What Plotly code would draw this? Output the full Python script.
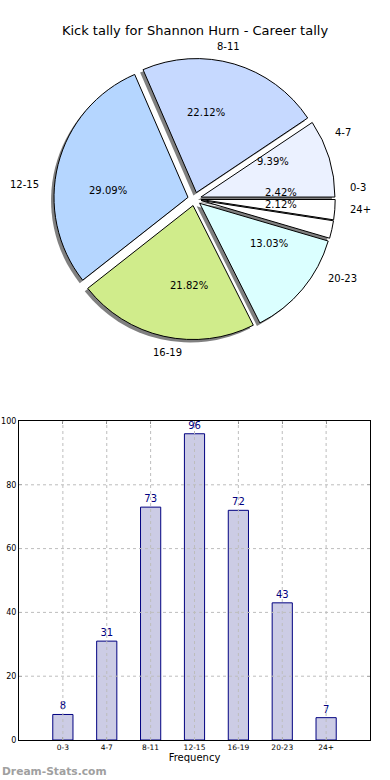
import math
import plotly.graph_objects as go

categories = ["0-3", "4-7", "8-11", "12-15", "16-19", "20-23", "24+"]
counts = [8, 31, 73, 96, 72, 43, 7]
pie_colors = ["#ffffff", "#ebf1ff", "#c6d9ff", "#b5d6ff", "#d0ec8b", "#dbffff", "#ffffff"]
y_ticks = [0, 20, 40, 60, 80, 100]

FONT = "DejaVu Sans"
W, H = 390, 780

def px_x(v):
    return v / W

def px_y(v):
    return 1 - v / H

# pie geometry (pixels)
CX, CY, R = 194.5, 199.0, 134.0
PULL = 0.05
half = R * (1 + PULL)
pie_dom_x = [px_x(CX - half), px_x(CX + half)]
pie_dom_y = [px_y(CY + half), px_y(CY - half)]
pulls = [PULL] * len(counts)

fig = go.Figure()

# shadow pie (offset down-left)
sx, sy = 0.022 * R, 0.022 * R
fig.add_trace(go.Pie(
    labels=categories, values=counts, sort=False, direction="counterclockwise",
    rotation=90, pull=pulls,
    marker=dict(colors=["#808080"] * len(counts), line=dict(width=0)),
    textinfo="none", hoverinfo="skip", showlegend=False,
    domain=dict(x=[pie_dom_x[0] - sx / W, pie_dom_x[1] - sx / W],
                y=[pie_dom_y[0] - sy / H, pie_dom_y[1] - sy / H]),
))

# main pie
fig.add_trace(go.Pie(
    labels=categories, values=counts, sort=False, direction="counterclockwise",
    rotation=90, pull=pulls,
    marker=dict(colors=pie_colors, line=dict(color="#000000", width=1)),
    textinfo="none", showlegend=False, domain=dict(x=pie_dom_x, y=pie_dom_y),
))

# pie texts derived from the data (matplotlib-style: pct at 0.6r, labels at 1.1r)
annotations = []
total = sum(counts)
cum = 0
for lab, c in zip(categories, counts):
    mid = math.radians((cum + c / 2) / total * 360)
    cum += c
    ox = CX + PULL * R * math.cos(mid)
    oy = CY - PULL * R * math.sin(mid)
    annotations.append(dict(
        text=f"{c / total * 100:.2f}%",
        x=px_x(ox + 0.6 * R * math.cos(mid)), y=px_y(oy - 0.6 * R * math.sin(mid)),
        xref="paper", yref="paper", xanchor="center", yanchor="middle",
        showarrow=False, font=dict(family=FONT, size=10, color="#000000")))
    annotations.append(dict(
        text=lab,
        x=px_x(ox + 1.1 * R * math.cos(mid)), y=px_y(oy - 1.1 * R * math.sin(mid)),
        xref="paper", yref="paper",
        xanchor="left" if math.cos(mid) > 0 else "right", yanchor="middle",
        showarrow=False, font=dict(family=FONT, size=10, color="#000000")))

annotations.append(dict(text="<b>Dream-Stats.com</b>", x=0, y=px_y(771),
                        xref="paper", yref="paper", xanchor="left", yanchor="middle",
                        showarrow=False,
                        font=dict(family=FONT, size=10.7, color="#a0a0a0")))

# bar chart
fig.add_trace(go.Bar(
    x=categories, y=counts, width=0.46,
    marker=dict(color="#ccccE5", line=dict(color="#000080", width=1)),
    text=counts, textposition="outside", cliponaxis=False,
    textfont=dict(family=FONT, size=10, color="#000080"),
    xaxis="x", yaxis="y", showlegend=False, hoverinfo="skip",
))

# dotted grid drawn above the bars (as in the reference)
grid_line = dict(color="#bdbdbd", width=1, dash="dot")
shapes = []
for cat in categories:
    shapes.append(dict(type="line", xref="x", yref="y domain", x0=cat, x1=cat,
                       y0=0, y1=1, line=grid_line, layer="above"))
for yt in y_ticks[1:-1]:
    shapes.append(dict(type="line", xref="x domain", yref="y", x0=0, x1=1,
                       y0=yt, y1=yt, line=grid_line, layer="above"))

bar_dom_x = [px_x(19), px_x(370)]
bar_dom_y = [px_y(740), px_y(421)]

fig.update_layout(
    width=W, height=H,
    margin=dict(l=0, r=0, t=0, b=0, autoexpand=False),
    paper_bgcolor="white", plot_bgcolor="rgba(0,0,0,0)",
    font=dict(family=FONT, color="#000000"),
    hovermode=False,
    title=dict(text="Kick tally for Shannon Hurn - Career tally",
               x=0.5, xanchor="center", y=px_y(30), yanchor="middle",
               font=dict(family=FONT, size=13, color="#000000")),
    xaxis=dict(domain=bar_dom_x, anchor="y", automargin=False,
               type="category", range=[-1, 7], layer="above traces",
               showline=True, linecolor="#000000", linewidth=1, mirror="ticks",
               ticks="inside", ticklen=3, tickcolor="#888888",
               showgrid=False,
               tickfont=dict(family=FONT, size=7.5, color="#000000"),
               title=dict(text="Frequency", font=dict(family=FONT, size=10), standoff=1),
               zeroline=False, fixedrange=True),
    yaxis=dict(domain=bar_dom_y, anchor="x", automargin=False,
               range=[0, 100], tickvals=y_ticks, layer="above traces",
               showline=True, linecolor="#000000", linewidth=1, mirror="ticks",
               ticks="inside", ticklen=3, tickcolor="#888888",
               showgrid=False,
               tickfont=dict(family=FONT, size=8, color="#000000"),
               zeroline=False, fixedrange=True),
    shapes=shapes,
    annotations=annotations,
)

fig.write_html("out.html", config={"displayModeBar": False},
               post_script="document.body.style.margin='0';")
